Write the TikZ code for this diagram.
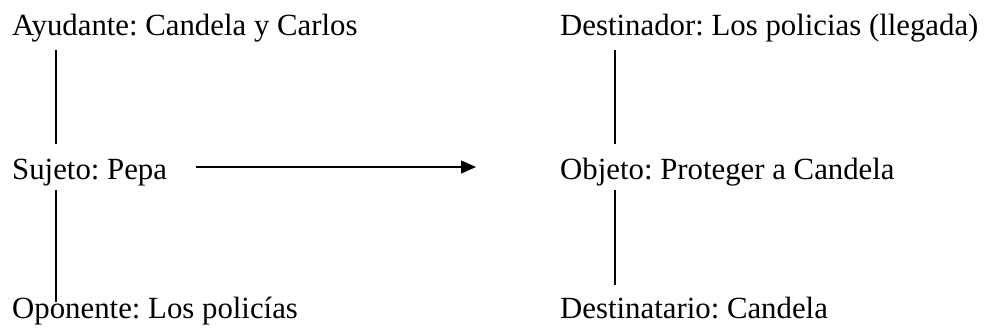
\documentclass[tikz,border=0pt]{standalone}
\usepackage{fontspec}
\setmainfont{Liberation Serif}
\usetikzlibrary{arrows.meta,calc}
\begin{document}
\frenchspacing
\begin{tikzpicture}[x=1pt,y=-1pt,
  role/.style={anchor=base west,inner sep=0pt,font=\fontsize{30.8}{36}\selectfont},
  link/.style={line width=1.1pt},
  flow/.style={line width=1.1pt,-{Triangle[length=15pt,width=13pt]}}]
  \useasboundingbox (0,0) rectangle (986,329);
  % actant labels
  \node[role] (ayu) at (12,36) {Ayudante: Candela y Carlos};
  \node[role] (suj) at (12,179) {Sujeto: Pepa};
  \node[role] (opo) at (12,318) {Oponente: Los policías};
  \node[role] (dor) at (560,36) {Destinador: Los policias (llegada)};
  \node[role] (obj) at (560,179) {Objeto: Proteger a Candela};
  \node[role] (dia) at (560,318) {Destinatario: Candela};
  % vertical links
  \draw[link] ($(ayu.base west)+(44,14)$) -- ($(suj.base west)+(44,-35)$);
  \draw[link] ($(suj.base west)+(44,11)$) -- ($(opo.base west)+(44,-16)$);
  \draw[link] ($(dor.base west)+(55,14)$) -- ($(obj.base west)+(55,-35)$);
  \draw[link] ($(obj.base west)+(55,11)$) -- ($(dia.base west)+(55,-33)$);
  % subject towards object
  \draw[flow] ($(suj.base west)+(184,-12)$) -- ($(obj.base west)+(-84,-12)$);
\end{tikzpicture}
\end{document}
